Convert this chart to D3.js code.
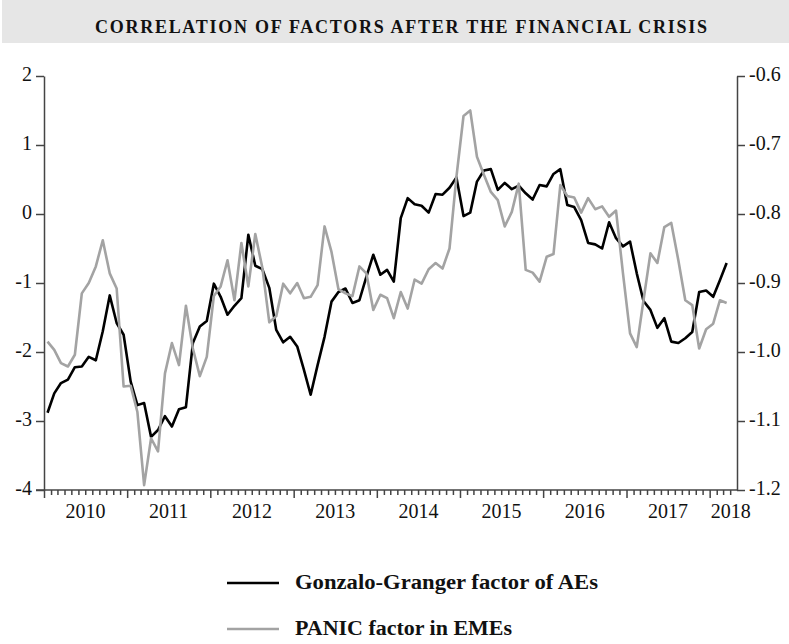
<!DOCTYPE html>
<meta charset="utf-8">
<script src="https://d3js.org/d3.v7.min.js"></script>
<style>
  body { margin: 0; background: #fff; }
  text { font-family: "Liberation Serif", "Times New Roman", serif; fill: #111; }
</style>
<svg width="789" height="644"></svg>
<script>
// monthly observations, Jan 2010 .. Mar 2018
var startMonth = new Date(2010, 0, 1);

// Gonzalo-Granger factor of AEs (left axis)
var aeFactor = [
  -2.88, -2.60, -2.45, -2.40, -2.22, -2.21, -2.07, -2.12, -1.70, -1.18, -1.58, -1.75,
  -2.43, -2.77, -2.74, -3.23, -3.13, -2.93, -3.08, -2.83, -2.80, -1.87, -1.63, -1.55,
  -1.01, -1.20, -1.46, -1.33, -1.22, -0.30, -0.75, -0.80, -1.07, -1.68, -1.86, -1.78,
  -1.92, -2.26, -2.62, -2.19, -1.78, -1.27, -1.13, -1.08, -1.29, -1.25, -0.91, -0.59,
  -0.88, -0.81, -0.98, -0.06, 0.23, 0.14, 0.12, 0.02, 0.29, 0.28, 0.38, 0.53,
  -0.03, 0.02, 0.47, 0.63, 0.65, 0.35, 0.45, 0.36, 0.41, 0.30, 0.21, 0.42,
  0.40, 0.58, 0.65, 0.13, 0.10, -0.09, -0.42, -0.44, -0.50, -0.12, -0.35, -0.47,
  -0.40, -0.86, -1.26, -1.39, -1.65, -1.51, -1.85, -1.87, -1.80, -1.71, -1.13, -1.11,
  -1.20, -0.96, -0.71
];

// PANIC factor in EMEs (right axis)
var emeFactor = [
  -0.985, -0.997, -1.016, -1.021, -1.004, -0.915, -0.900, -0.876, -0.838, -0.886, -0.908, -1.050,
  -1.049, -1.087, -1.193, -1.125, -1.144, -1.031, -0.987, -1.019, -0.933, -0.995, -1.035, -1.007,
  -0.919, -0.905, -0.867, -0.925, -0.842, -0.905, -0.829, -0.878, -0.957, -0.948, -0.901, -0.915,
  -0.900, -0.922, -0.920, -0.903, -0.818, -0.855, -0.909, -0.915, -0.919, -0.876, -0.886, -0.939,
  -0.917, -0.922, -0.951, -0.913, -0.937, -0.895, -0.901, -0.880, -0.871, -0.879, -0.850, -0.746,
  -0.658, -0.650, -0.717, -0.743, -0.768, -0.780, -0.818, -0.797, -0.756, -0.881, -0.885, -0.898,
  -0.862, -0.858, -0.758, -0.774, -0.776, -0.798, -0.777, -0.793, -0.789, -0.804, -0.795, -0.886,
  -0.973, -0.993, -0.925, -0.857, -0.871, -0.819, -0.813, -0.867, -0.925, -0.932, -0.995, -0.967,
  -0.959, -0.925, -0.929
];

var leftTicks = [2, 1, 0, -1, -2, -3, -4];
var rightTicks = [-0.6, -0.7, -0.8, -0.9, -1.0, -1.1, -1.2];
var yearLabels = ["2010", "2011", "2012", "2013", "2014", "2015", "2016", "2017", "2018"];
var seriesNames = ["Gonzalo-Granger factor of AEs", "PANIC factor in EMEs"];
var titleText = "CORRELATION OF FACTORS AFTER THE FINANCIAL CRISIS";

var svg = d3.select("svg");
var axisColor = "#444";

var x = d3.scaleTime()
    .domain([startMonth, new Date(2018, 4, 1)])
    .range([44, 737]);
var yL = d3.scaleLinear().domain([-4, 2]).range([490, 76]);
var yR = d3.scaleLinear().domain([-1.2, -0.6]).range([490, 76]);

// observation date = middle of its month
function obsDate(i) {
  var a = d3.timeMonth.offset(startMonth, i), b = d3.timeMonth.offset(startMonth, i + 1);
  return new Date((+a + +b) / 2);
}

// title band
svg.append("rect")
    .attr("x", 2).attr("y", 0)
    .attr("width", 787).attr("height", 43)
    .attr("fill", "#e6e6e6");
svg.append("text")
    .attr("x", 401).attr("y", 33)
    .attr("text-anchor", "middle")
    .attr("font-weight", "bold")
    .attr("font-size", "18px")
    .attr("textLength", 612)
    .attr("lengthAdjust", "spacing")
    .text(titleText);

// left axis
var gL = svg.append("g")
    .attr("transform", "translate(44,0)")
    .call(d3.axisLeft(yL).tickValues(leftTicks).tickSize(8).tickSizeOuter(0).tickPadding(4)
      .tickFormat(d3.format("d")));

// right axis
var gR = svg.append("g")
    .attr("transform", "translate(737,0)")
    .call(d3.axisRight(yR).tickValues(rightTicks).tickSize(8).tickSizeOuter(0).tickPadding(4)
      .tickFormat(d3.format(".1f")));

[gL, gR].forEach(function(g) {
  g.selectAll("path, line").attr("stroke", axisColor).attr("stroke-width", 1.5);
  g.selectAll("text")
      .attr("font-size", "20px")
      .attr("font-family", "'Liberation Serif', serif")
      .attr("fill", "#111")
      .attr("dy", "0.2em")
      .text(function(d) { return d < 0 ? "-" + d3.select(this).text().replace(/[−-]/, "") : d3.select(this).text(); });
});

// bottom axis: monthly minor ticks, yearly major ticks
var monthTicks = d3.timeMonth.range(startMonth, new Date(2018, 4, 1))
    .filter(function(d) { return d.getMonth() !== 0; });
var yearTicks = d3.timeYear.range(startMonth, new Date(2018, 4, 1));

var gB = svg.append("g").attr("transform", "translate(0,490)");
gB.call(d3.axisBottom(x).tickValues(monthTicks).tickSize(5).tickSizeOuter(0).tickFormat(""));
gB.select(".domain").remove();
var gB2 = svg.append("g").attr("transform", "translate(0,490)");
gB2.call(d3.axisBottom(x).tickValues(yearTicks).tickSize(8).tickSizeOuter(0).tickFormat(""));
gB2.select(".domain").remove();
svg.selectAll("g.tick line").attr("stroke", axisColor).attr("stroke-width", 1.5);

svg.append("line")
    .attr("x1", 36).attr("x2", 737)
    .attr("y1", 490).attr("y2", 490)
    .attr("stroke", axisColor).attr("stroke-width", 1.5);

// year labels centred on the visible part of each year
svg.append("g").selectAll("text")
    .data(yearLabels)
    .join("text")
    .attr("font-size", "20px")
    .attr("y", 518)
    .each(function(d) {
      var a = new Date(+d, 0, 1), b = new Date(+d + 1, 0, 1);
      var x0 = x(a), x1 = Math.min(x(b), x.range()[1]);
      var t = d3.select(this).text(d);
      var w = this.getComputedTextLength();
      if (x1 - x0 < w + 4) {
        t.attr("x", x0 + 1).attr("text-anchor", "start");
      } else {
        t.attr("x", (x0 + x1) / 2).attr("text-anchor", "middle");
      }
    });

// series lines
var lineAE = d3.line()
    .x(function(d, i) { return x(obsDate(i)); })
    .y(function(d) { return yL(d); });
var lineEME = d3.line()
    .x(function(d, i) { return x(obsDate(i)); })
    .y(function(d) { return yR(d); });

svg.append("path")
    .datum(aeFactor)
    .attr("fill", "none")
    .attr("stroke", "#000")
    .attr("stroke-width", 2.6)
    .attr("stroke-linejoin", "round")
    .attr("d", lineAE);

svg.append("path")
    .datum(emeFactor)
    .attr("fill", "none")
    .attr("stroke", "#a3a3a3")
    .attr("stroke-width", 2.6)
    .attr("stroke-linejoin", "round")
    .attr("d", lineEME);

// legend
var legendWidths = [303, 217];
var legend = svg.append("g").selectAll("g")
    .data(seriesNames)
    .join("g")
    .attr("transform", function(d, i) { return "translate(227," + (583 + i * 46) + ")"; });
legend.append("line")
    .attr("x1", 0).attr("x2", 52)
    .attr("stroke", function(d, i) { return i === 0 ? "#000" : "#a3a3a3"; })
    .attr("stroke-width", 2.6);
legend.append("text")
    .attr("x", 68).attr("y", 6)
    .attr("font-weight", "bold")
    .attr("font-size", "20px")
    .attr("textLength", function(d, i) { return legendWidths[i]; })
    .attr("lengthAdjust", "spacingAndGlyphs")
    .text(function(d) { return d; });
</script>
